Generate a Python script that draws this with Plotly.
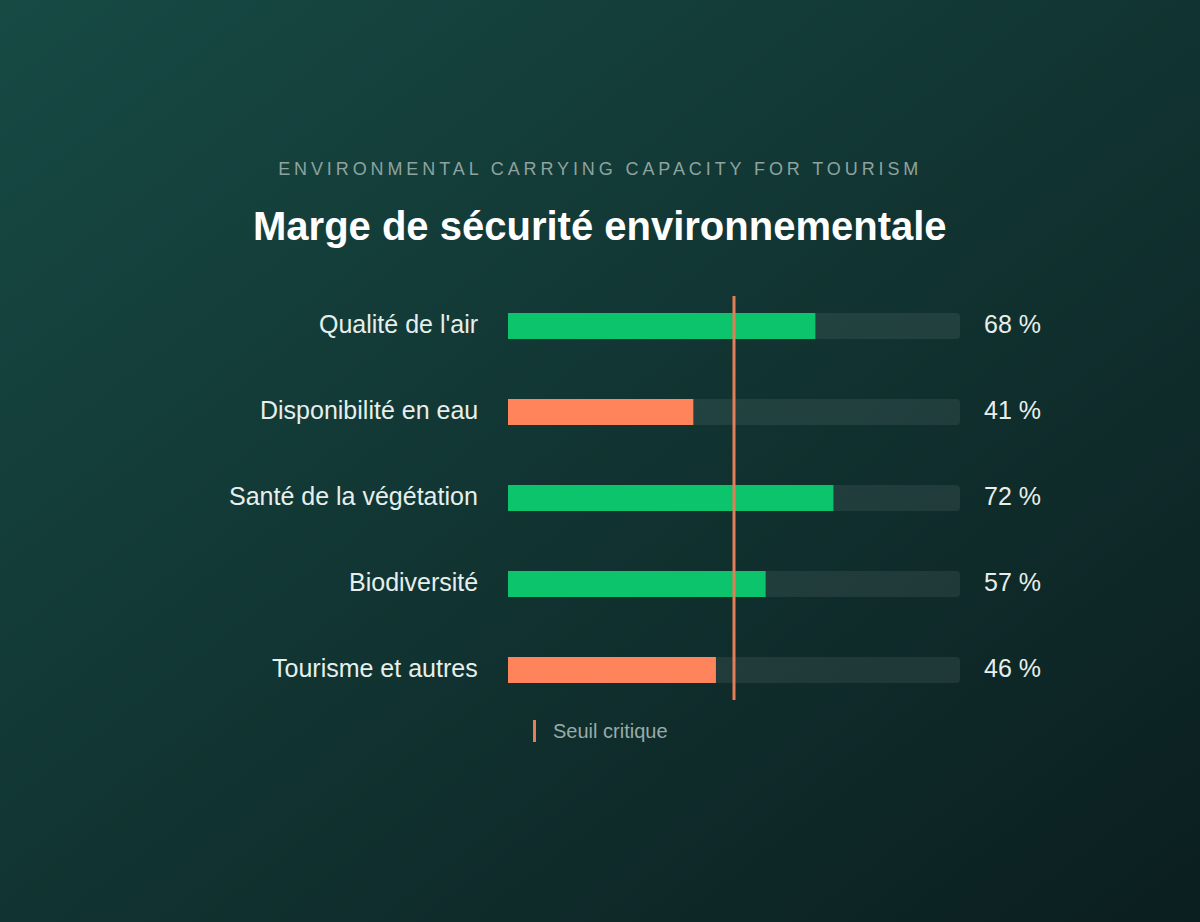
import plotly.graph_objects as go

categories = ["Qualité de l'air", "Disponibilité en eau", "Santé de la végétation", "Biodiversité", "Tourisme et autres"]
values = [68, 41, 72, 57, 46]
threshold = 50
max_value = 100
subtitle = "ENVIRONMENTAL CARRYING CAPACITY FOR TOURISM"
title = "Marge de sécurité environnementale"
legend_label = "Seuil critique"

W, H = 1200, 922
GREEN = "#0bc46b"
ORANGE = "#ff845c"
LINE = "#e47e58"
FONT = "Liberation Sans, Arial, sans-serif"

colors = [GREEN if v >= threshold else ORANGE for v in values]
ypos = list(range(len(categories)))

# pixel geometry
x0_px, x1_px = 508, 960
y_top_px, y_bot_px = 296, 700
pad = 30 / 86

fig = go.Figure()
fig.add_trace(go.Bar(
    x=[max_value] * len(categories), y=ypos, orientation="h",
    marker=dict(color="rgba(255,255,255,0.075)", cornerradius=4, line=dict(width=0)),
    width=0.302, hoverinfo="skip", showlegend=False,
))
fig.add_trace(go.Bar(
    x=values, y=ypos, orientation="h",
    marker=dict(color=colors, cornerradius=4, line=dict(width=0)),
    width=0.302, showlegend=False,
))

# threshold line
fig.add_shape(type="line", xref="x", yref="paper",
              x0=threshold, x1=threshold,
              y0=1 - y_bot_px / H, y1=1 - y_top_px / H,
              line=dict(color=LINE, width=3), layer="above")

annotations = []
for i, (c, v) in enumerate(zip(categories, values)):
    annotations.append(dict(x=0, y=i, xref="x", yref="y", text=c, showarrow=False,
                            xanchor="right", yanchor="middle", xshift=-28, yshift=2,
                            font=dict(family=FONT, size=25, color="#e6efec")))
    annotations.append(dict(x=max_value, y=i, xref="x", yref="y", text=f"{v} %", showarrow=False,
                            xanchor="left", yanchor="middle", xshift=22, yshift=2,
                            font=dict(family=FONT, size=25, color="#e6efec")))

annotations.append(dict(x=0.5, y=1 - 169 / H, xref="paper", yref="paper", text=subtitle,
                        showarrow=False, xanchor="center", yanchor="middle",
                        font=dict(family=FONT, size=18, color="#8ea39f")))
annotations.append(dict(x=0.5, y=1 - 226 / H, xref="paper", yref="paper", text=f"<b>{title}</b>",
                        showarrow=False, xanchor="center", yanchor="middle",
                        font=dict(family=FONT, size=40, color="#ffffff")))
annotations.append(dict(x=551 / W, y=1 - 731 / H, xref="paper", yref="paper", text=legend_label,
                        showarrow=False, xanchor="left", yanchor="middle",
                        font=dict(family=FONT, size=20, color="#9aaba7")))

fig.add_shape(type="line", xref="paper", yref="paper",
              x0=534.5 / W, x1=534.5 / W, y0=1 - 742 / H, y1=1 - 720 / H,
              line=dict(color=LINE, width=3))

bg_svg = ("data:image/svg+xml;utf8,"
          "<svg xmlns='http://www.w3.org/2000/svg' width='1200' height='922' preserveAspectRatio='none'>"
          "<defs><linearGradient id='g' x1='0' y1='0' x2='1' y2='1'>"
          "<stop offset='0' stop-color='%23174a44'/><stop offset='1' stop-color='%230b1e1f'/>"
          "</linearGradient></defs><rect width='1200' height='922' fill='url(%23g)'/></svg>")

fig.update_layout(
    width=W, height=H,
    margin=dict(l=0, r=0, t=0, b=0),
    paper_bgcolor="#11302e", plot_bgcolor="rgba(0,0,0,0)",
    barmode="overlay",
    annotations=annotations,
    images=[dict(source=bg_svg, xref="paper", yref="paper", x=0, y=1, sizex=1, sizey=1,
                 sizing="stretch", layer="below", xanchor="left", yanchor="top")],
    xaxis=dict(range=[0, max_value], domain=[x0_px / W, x1_px / W], visible=False, fixedrange=True),
    yaxis=dict(range=[len(categories) - 1 + pad, -pad], domain=[1 - y_bot_px / H, 1 - y_top_px / H],
               visible=False, fixedrange=True),
    showlegend=False,
    hovermode=False,
)

post = """
document.body.style.margin='0';
document.querySelectorAll('text.annotation-text').forEach(function(t){
  if (t.textContent === '%s') { t.style.letterSpacing = '3.9px'; }
});
""" % subtitle

fig.write_html("out.html", post_script=post, config={"displayModeBar": False})
